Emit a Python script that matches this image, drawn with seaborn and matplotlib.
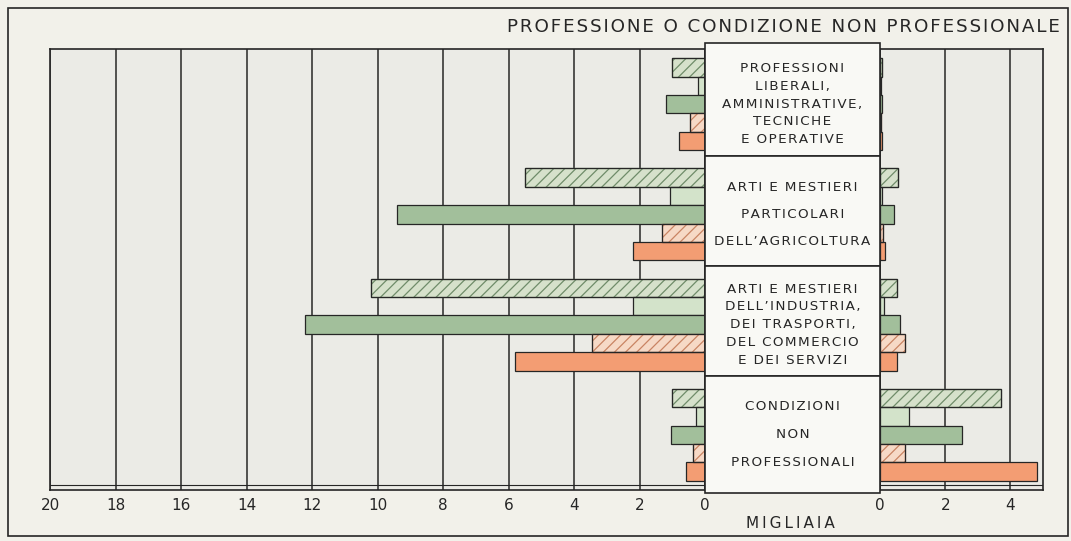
import matplotlib
matplotlib.use("Agg")
import matplotlib.pyplot as plt
import numpy as np
import pandas as pd
import seaborn as sns
from matplotlib.patches import Rectangle

# --- data (migliaia) -------------------------------------------------------
categorie = ["professioni", "agricoltura", "industria", "non_prof"]
etichette = [
    "PROFESSIONI\nLIBERALI,\nAMMINISTRATIVE,\nTECNICHE\nE OPERATIVE",
    "ARTI E MESTIERI\nPARTICOLARI\nDELL\u2019AGRICOLTURA",
    "ARTI E MESTIERI\nDELL\u2019INDUSTRIA,\nDEI TRASPORTI,\nDEL COMMERCIO\nE DEI SERVIZI",
    "CONDIZIONI\nNON\nPROFESSIONALI",
]
interlinea = [1.48, 2.42, 1.48, 2.5]
serie = ["verde_tratteggio", "verde_chiaro", "verde_scuro", "arancio_tratteggio", "arancio"]

# left panel (scale 20 -> 0)
sx_verde_tratteggio = [1.0, 5.5, 10.2, 1.0]
sx_verde_chiaro = [0.2, 1.07, 2.2, 0.28]
sx_verde_scuro = [1.2, 9.4, 12.2, 1.04]
sx_arancio_tratteggio = [0.45, 1.3, 3.45, 0.37]
sx_arancio = [0.8, 2.2, 5.8, 0.58]

# right panel (scale 0 -> 5)
dx_verde_tratteggio = [0.05, 0.55, 0.53, 3.7]
dx_verde_chiaro = [0.04, 0.05, 0.12, 0.9]
dx_verde_scuro = [0.06, 0.43, 0.62, 2.53]
dx_arancio_tratteggio = [0.03, 0.1, 0.76, 0.76]
dx_arancio = [0.06, 0.15, 0.53, 4.82]

tick_sx = [20, 18, 16, 14, 12, 10, 8, 6, 4, 2, 0]
tick_dx = [0, 2, 4]

# --- styling ---------------------------------------------------------------
carta = "#f2f1ea"
fondo = "#ebebe6"
riquadro = "#f9f9f5"
inchiostro = "#262626"
colori = {
    "verde_tratteggio": "#d6e1cb",
    "verde_chiaro": "#d3e3ca",
    "verde_scuro": "#a2bf9b",
    "arancio_tratteggio": "#f6d9c6",
    "arancio": "#f39d73",
}
tratteggi = {"verde_tratteggio": "#6f8c69", "arancio_tratteggio": "#c98463"}

sns.set_style("white", {"axes.facecolor": fondo, "figure.facecolor": carta})
plt.rcParams["font.family"] = ["DejaVu Sans"]
plt.rcParams["hatch.linewidth"] = 0.9


def spaziato(testo):
    """Open up the lettering with hair spaces between characters."""
    return "\n".join("\u200a".join(riga) for riga in testo.split("\n"))


def tabella(valori):
    righe = []
    for s, vals in zip(serie, valori):
        for c, v in zip(categorie, vals):
            righe.append({"categoria": c, "serie": s, "migliaia": v})
    return pd.DataFrame(righe)


df_sx = tabella([sx_verde_tratteggio, sx_verde_chiaro, sx_verde_scuro,
                 sx_arancio_tratteggio, sx_arancio])
df_dx = tabella([dx_verde_tratteggio, dx_verde_chiaro, dx_verde_scuro,
                 dx_arancio_tratteggio, dx_arancio])

W, H = 1071, 541
fig = plt.figure(figsize=(W / 100, H / 100), dpi=100, facecolor=carta)


def px_axes(x0, x1, y0, y1):
    return fig.add_axes([x0 / W, 1 - y1 / H, (x1 - x0) / W, (y1 - y0) / H])


ax_sx = px_axes(50, 705, 49, 490)
ax_dx = px_axes(880, 1043, 49, 490)
ax_mid = px_axes(705, 880, 49, 490)


def disegna(ax, df):
    sns.barplot(data=df, x="migliaia", y="categoria", hue="serie",
                order=categorie, hue_order=serie, palette=colori,
                orient="h", width=5 / 6, dodge=True, saturation=1,
                edgecolor=inchiostro, linewidth=0.9, legend=False, ax=ax)
    for s, cont in zip(serie, ax.containers):
        if s in tratteggi:
            for p in cont.patches:
                p.set_hatch("///")
                p.set_edgecolor(tratteggi[s])
                ax.add_patch(Rectangle(p.get_xy(), p.get_width(), p.get_height(),
                                       facecolor="none", edgecolor=inchiostro,
                                       linewidth=0.9, zorder=p.get_zorder() + 0.1))
    ax.set_ylim(3.5, -0.5)
    ax.set_xlabel("")
    ax.set_ylabel("")
    ax.set_yticks([])
    ax.grid(axis="x", color=inchiostro, linewidth=1.1)
    ax.set_axisbelow(True)
    ax.tick_params(axis="x", length=0, pad=6, labelsize=11, labelcolor=inchiostro)
    for sp in ax.spines.values():
        sp.set_color(inchiostro)
        sp.set_linewidth(1.2)
    # second rule just above the bottom edge
    ax.axhline(3.5 - 4 * 5 / 441, color=inchiostro, linewidth=0.8, zorder=5)


disegna(ax_sx, df_sx)
ax_sx.set_xlim(20, 0)
ax_sx.set_xticks(tick_sx)
ax_sx.set_xticklabels([str(t) for t in tick_sx])

disegna(ax_dx, df_dx)
ax_dx.set_xlim(0, 5)
ax_dx.set_xticks(tick_dx)
ax_dx.set_xticklabels([str(t) for t in tick_dx])

# central label boxes
ax_mid.set_xlim(0, 1)
ax_mid.set_ylim(3.5, -0.5)
ax_mid.axis("off")
limiti = [-0.55, 0.47, 1.47, 2.47, 3.53]
for i, (testo, ls) in enumerate(zip(etichette, interlinea)):
    y0, y1 = limiti[i], limiti[i + 1]
    ax_mid.add_patch(Rectangle((0, y0), 1, y1 - y0, facecolor=riquadro,
                               edgecolor=inchiostro, linewidth=1.2, clip_on=False))
    ax_mid.text(0.5, i, spaziato(testo), ha="center", va="center",
                multialignment="center", fontsize=9.7, linespacing=ls,
                color=inchiostro)

fig.text(1060 / W, 1 - 27 / H, spaziato("PROFESSIONE O CONDIZIONE NON PROFESSIONALE"),
         ha="right", va="center", fontsize=13.2, color=inchiostro)
fig.text(790 / W, 1 - 523 / H, "M\u2009I\u2009G\u2009L\u2009I\u2009A\u2009I\u2009A",
         ha="center", va="center", fontsize=11, color=inchiostro)

# outer frame
fig.add_artist(Rectangle((8 / W, 1 - 536 / H), 1060 / W, 528 / H,
                         transform=fig.transFigure, facecolor="none",
                         edgecolor=inchiostro, linewidth=1.2))

fig.savefig("out.png", dpi=100, facecolor=carta)
